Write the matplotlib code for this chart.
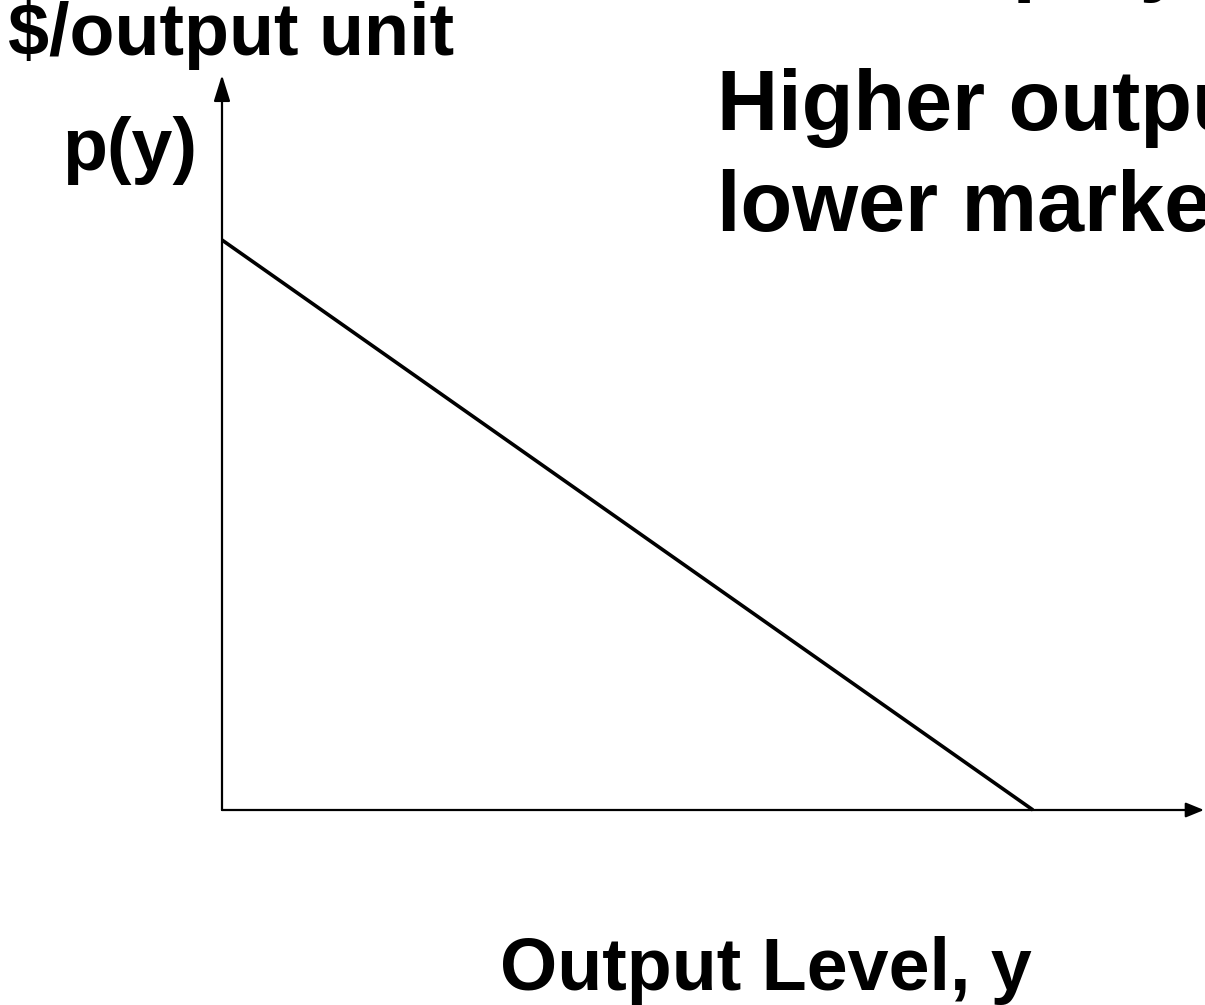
import matplotlib.pyplot as plt

plt.rcParams['font.family'] = ['Liberation Sans', 'DejaVu Sans']
plt.rcParams['font.weight'] = 'bold'

# inverse demand p(y) = a - b*y
price_intercept = 10.0
output_max = 10.0
demand_y = [0.0, output_max]
demand_p = [price_intercept, 0.0]

W, H = 1205, 1005
fig = plt.figure(figsize=(W / 100, H / 100), dpi=100)
ax = fig.add_axes([0, 0, 1, 1])
ax.set_axis_off()

# pixel scale: origin at (222, 810)
ox, oy = 222, 810
sx = (1033 - ox) / output_max
sy = (oy - 240) / price_intercept
ax.set_xlim(-ox / sx, (W - ox) / sx)
ax.set_ylim(-(H - oy) / sy, oy / sy)

# axes with arrows
ax.annotate("", xy=((1204 - ox) / sx, 0), xytext=(0, 0), annotation_clip=False,
            arrowprops=dict(arrowstyle="-|>,head_length=1.1,head_width=0.45",
                            lw=1.6, color="black", shrinkA=0, shrinkB=0))
ax.annotate("", xy=(0, (oy - 75) / sy), xytext=(0, 0), annotation_clip=False,
            arrowprops=dict(arrowstyle="-|>,head_length=1.6,head_width=0.5",
                            lw=1.6, color="black", shrinkA=0, shrinkB=0))

# demand curve
ax.plot(demand_y, demand_p, color="black", lw=2.6, solid_capstyle="butt")

def px(x, y):
    return x / W, 1 - y / H

fig.text(*px(8, 55), "$/output unit", fontsize=53, fontweight="bold", va="baseline", ha="left")
fig.text(*px(62, 170), "p(y)", fontsize=53, fontweight="bold", va="baseline", ha="left")
fig.text(*px(500, 990), "Output Level, y", fontsize=53, fontweight="bold", va="baseline", ha="left")
fig.text(*px(717, 130), "Higher output y causes a", fontsize=61, fontweight="bold", va="baseline", ha="left")
fig.text(*px(717, 231), "lower market price, p(y).", fontsize=61, fontweight="bold", va="baseline", ha="left")
fig.text(*px(575, -15), "Pure Monopoly", fontsize=61, fontweight="bold", va="baseline", ha="left")

fig.savefig("out.png", dpi=100)
